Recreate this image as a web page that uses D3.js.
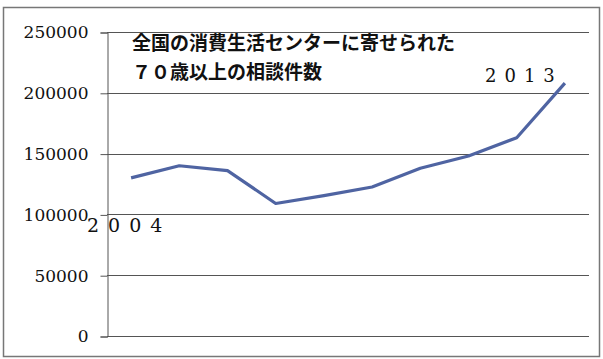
<!DOCTYPE html>
<html>
<head>
<meta charset="utf-8">
<script src="https://cdn.jsdelivr.net/npm/d3@7"></script>
<style>
  body { margin: 0; background: #fff; }
  svg { display: block; }
</style>
</head>
<body>
<svg></svg>
<script>
const years = ['2004', '2005', '2006', '2007', '2008', '2009', '2010', '2011', '2012', '2013'];
const counts = [130000, 140000, 136000, 109000, 115500, 122500, 138000, 148000, 163000, 208000];
const yTicks = [0, 50000, 100000, 150000, 200000, 250000];
const titleLines = ['全国の消費生活センターに寄せられた', '７０歳以上の相談件数'];
const endLabels = ['2004', '2013'];

const [chartWidth, chartHeight] = [603, 359];
const margin = {top: 32, right: 14, bottom: 23, left: 107};

const xScale = d3.scaleBand()
    .domain(years)
    .range([margin.left, chartWidth - margin.right]);

const yScale = d3.scaleLinear()
    .domain([0, 250000])
    .range([chartHeight - margin.bottom, margin.top]);

const svg = d3.select('svg')
    .attr('width', chartWidth)
    .attr('height', chartHeight);

// outer frame
svg.append('rect')
    .attr('x', 3.5).attr('y', 7.5)
    .attr('width', 596).attr('height', 349)
    .attr('fill', '#fff')
    .attr('stroke', '#777')
    .attr('stroke-width', 1.5);

// gridlines
svg.append('g')
    .selectAll('line')
    .data(yTicks)
    .join('line')
    .attr('x1', margin.left)
    .attr('x2', chartWidth - margin.right)
    .attr('y1', d => Math.round(yScale(d)) + 0.5)
    .attr('y2', d => Math.round(yScale(d)) + 0.5)
    .attr('stroke', '#555')
    .attr('stroke-width', 1);

// y axis
const yAxis = d3.axisLeft(yScale)
    .tickValues(yTicks)
    .tickSize(7)
    .tickPadding(12)
    .tickFormat(d3.format('d'));

const gy = svg.append('g')
    .attr('transform', `translate(${margin.left + 0.5},0.5)`)
    .call(yAxis);
gy.select('.domain').attr('stroke', '#555');
gy.selectAll('.tick line').attr('stroke', '#555');
gy.selectAll('.tick text')
    .attr('fill', '#111')
    .style('font-family', '"DejaVu Serif", serif')
    .style('font-size', '17px');

// line
const line = d3.line()
    .x((d, i) => xScale(years[i]) + xScale.bandwidth() / 2)
    .y(d => yScale(d));

svg.append('path')
    .datum(counts)
    .attr('d', line)
    .attr('fill', 'none')
    .attr('stroke', '#4f64a2')
    .attr('stroke-width', 3.2)
    .attr('stroke-linejoin', 'round');

// title
svg.append('g')
    .selectAll('text')
    .data(titleLines)
    .join('text')
    .attr('x', 132)
    .attr('y', (d, i) => 50 + i * 29)
    .attr('fill', '#111')
    .style('font-family', '"Noto Sans CJK JP", sans-serif')
    .style('font-weight', 'bold')
    .style('font-size', '19px')
    .text(d => d);

// year labels at both ends
svg.append('text')
    .attr('x', 87).attr('y', 232)
    .attr('fill', '#111')
    .style('font-family', '"DejaVu Serif", serif')
    .style('font-size', '19px')
    .style('letter-spacing', '9px')
    .text(endLabels[0]);

svg.append('text')
    .attr('x', 485).attr('y', 82)
    .attr('fill', '#111')
    .style('font-family', '"DejaVu Serif", serif')
    .style('font-size', '18px')
    .style('letter-spacing', '8px')
    .text(endLabels[1]);
</script>
</body>
</html>
